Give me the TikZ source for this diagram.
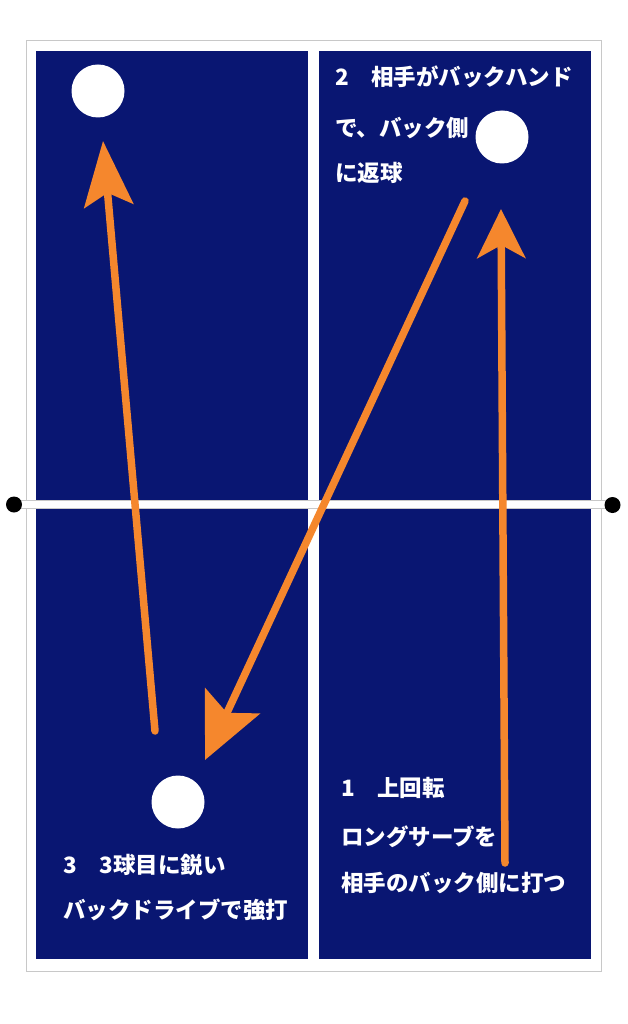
\documentclass[tikz,border=0pt]{standalone}
\usepackage{fontspec}
\newfontfamily\jp{Noto Sans CJK JP}
\usetikzlibrary{arrows.meta}
\definecolor{tablecol}{RGB}{9,22,114}
\definecolor{shotcol}{RGB}{245,135,45}
\definecolor{framecol}{RGB}{200,200,200}
\tikzset{
  ball/.style={circle, fill=white, minimum size=53pt, inner sep=0pt},
  shot/.style={line width=7.5pt, color=shotcol, line cap=round},
  shothead/.style 2 args={-{Stealth[length=#1, width=#2, inset=13pt]}},
  note/.style={anchor=west, inner sep=0pt, text=white, font=\jp\bfseries\fontsize{22.5}{27}\selectfont},
}

\begin{document}
\begin{tikzpicture}[x=1pt,y=-1pt]
		%%%%% START %%%%%
		\useasboundingbox (0,0) rectangle (628,1024);
		
		% table
		\draw[framecol, line width=1.2pt, fill=white] (26.5,40.5) rectangle (601.5,971.5);
		\fill[tablecol] (36,51) rectangle (308,959);
		\fill[tablecol] (319,51) rectangle (591,959);
		
		% net
		\draw[framecol, line width=1pt, fill=white] (14,500.5) rectangle (612,508.5);
		\fill[black] (14,504.5) circle (8);
		\fill[black] (612.5,505) circle (8);
		
		% balls
		\node[ball] (ballA) at (98,91) {};
		\node[ball] (ballB) at (502,137) {};
		\node[ball] (ballC) at (178,802) {};
		
		% shots
		\coordinate (serveS) at (505,863);
		\coordinate (serveE) at (501,209);
		\coordinate (returnS) at (465,201);
		\coordinate (returnE) at (205,760);
		\coordinate (driveS) at (155,731);
		\coordinate (driveE) at (103,141);
		
		\draw[shot, shothead={49pt}{48pt}] (serveS) -- (serveE);
		\draw[shot, shothead={65pt}{60pt}] (returnS) -- (returnE);
		\draw[shot, shothead={65pt}{49pt}] (driveS) -- (driveE);
		
		% texts
		\node[note] (ret1) at (335,77) {2　相手がバックハンド};
		\node[note] (ret2) at (335,128) {で、バック側};
		\node[note] (ret3) at (335,173) {に返球};
		
		\node[note] (srv1) at (341,788) {1　上回転};
		\node[note] (srv2) at (341,837) {ロングサーブを};
		\node[note] (srv3) at (341,883) {相手のバック側に打つ};
		
		\node[note] (drv1) at (63,865) {3　3球目に鋭い};
		\node[note] (drv2) at (63,910) {バックドライブで強打};
		
		%%%%% END %%%%%
	\end{tikzpicture}
\end{document}
